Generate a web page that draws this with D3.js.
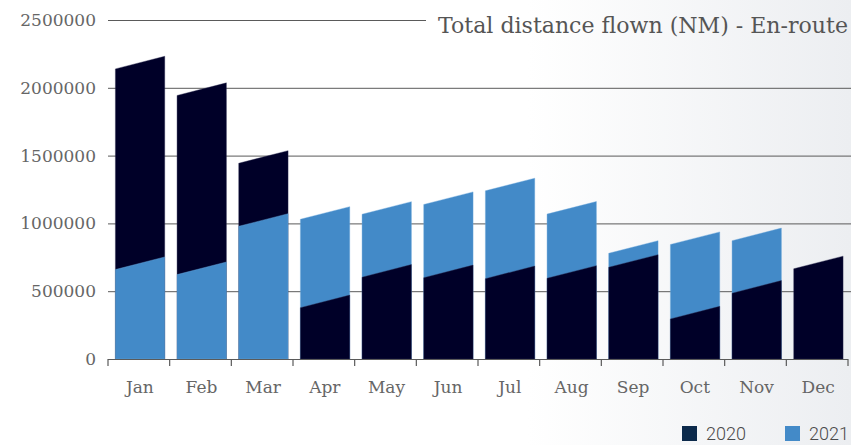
<!DOCTYPE html>
<html>
<head>
<meta charset="utf-8">
<script src="https://cdn.jsdelivr.net/npm/d3@7"></script>
<style>
  html, body { margin: 0; padding: 0; background: #fff; }
  svg { display: block; }
</style>
</head>
<body>
<div id="chart"></div>
<script>
// data
var months = ['Jan', 'Feb', 'Mar', 'Apr', 'May', 'Jun', 'Jul', 'Aug', 'Sep', 'Oct', 'Nov', 'Dec'];
var values2020 = [2186000, 1990000, 1490000, 425000, 650000, 646000, 639000, 642000, 723000, 342000, 532000, 712000];
var values2021 = [706000, 669000, 1025000, 1077000, 1114000, 1186000, 1287000, 1115000, 826000, 891000, 919000, null];
var yTicks = [0, 500000, 1000000, 1500000, 2000000, 2500000];
var seriesNames = ['2020', '2021'];
var title = 'Total distance flown (NM) - En-route';

var W = 851, H = 445;
var slant = 12.6; // bars have a sloped top, left edge lower than right

var colors = {'2020': '#000028', '2021': '#438ac8'};
var legendColors = {'2020': '#0c2a4b', '2021': '#438ac8'};
var textColor = '#666666';

var svg = d3.select('#chart').append('svg').attr('width', W).attr('height', H);

// soft grey fade on the right side
var grad = svg.append('defs').append('linearGradient').attr('id', 'bg').attr('x1', 0).attr('x2', 1).attr('y1', 0).attr('y2', 0);
grad.append('stop').attr('offset', '0.62').attr('stop-color', '#ffffff');
grad.append('stop').attr('offset', '1').attr('stop-color', '#eceef1');
svg.append('rect').attr('width', W).attr('height', H).attr('fill', 'url(#bg)');

var x = d3.scaleBand().domain(months).range([108, 848]).paddingInner(0.2).paddingOuter(0.1).align(0.6);
var y = d3.scaleLinear().domain([0, 2500000]).range([359, 20]);
var step = x.step();

// gridlines (top one stops short of the title)
svg.append('g').selectAll('line').data(yTicks.filter(function(d) { return d > 0; })).enter()
  .append('line')
  .attr('x1', 108).attr('x2', function(d) { return d === 2500000 ? 426 : W; })
  .attr('y1', function(d) { return y(d) + 0.5; }).attr('y2', function(d) { return y(d) + 0.5; })
  .attr('stroke', '#5a5a5a').attr('stroke-width', 1);

// y axis labels
svg.append('g').selectAll('text').data(yTicks).enter()
  .append('text')
  .attr('x', 96).attr('y', function(d) { return y(d) + 6; })
  .attr('text-anchor', 'end')
  .attr('font-family', 'DejaVu Serif')
  .attr('font-size', 17)
  .attr('fill', textColor)
  .text(function(d) { return d; });

// bars: larger one behind, smaller in front
var rows = months.map(function(m, i) {
  var items = [];
  if (values2020[i] != null) items.push({month: m, series: '2020', value: values2020[i]});
  if (values2021[i] != null) items.push({month: m, series: '2021', value: values2021[i]});
  items.sort(function(a, b) { return b.value - a.value; });
  return items;
});
var barData = [].concat.apply([], rows);

function barPath(d) {
  var x0 = x(d.month), x1 = x0 + x.bandwidth();
  var yt = y(d.value), y0 = y(0);
  return 'M' + x0 + ',' + (yt + slant / 2) + 'L' + x1 + ',' + (yt - slant / 2) +
    'L' + x1 + ',' + y0 + 'L' + x0 + ',' + y0 + 'Z';
}
svg.append('g').selectAll('path').data(barData).enter()
  .append('path')
  .attr('d', barPath)
  .attr('fill', function(d) { return colors[d.series]; })
  .attr('stroke', function(d) { return d.series === '2021' ? '#6aa6dc' : '#2a2a50'; })
  .attr('stroke-width', 0.4);

// x axis with ticks at the band boundaries
var axisG = svg.append('g');
axisG.append('line').attr('x1', 108).attr('x2', 848).attr('y1', 359.5).attr('y2', 359.5)
  .attr('stroke', '#5a5a5a').attr('stroke-width', 1.2);
var tickXs = d3.range(months.length + 1).map(function(i) { return 108 + i * step; });
axisG.selectAll('line.tick').data(tickXs).enter()
  .append('line').attr('class', 'tick')
  .attr('x1', function(d) { return d; }).attr('x2', function(d) { return d; })
  .attr('y1', 359).attr('y2', 366)
  .attr('stroke', '#5a5a5a').attr('stroke-width', 1.2);
axisG.selectAll('text').data(months).enter()
  .append('text')
  .attr('x', function(d, i) { return 108 + (i + 0.5) * step + 1; })
  .attr('y', 393)
  .attr('text-anchor', 'middle')
  .attr('font-family', 'DejaVu Serif')
  .attr('font-size', 17)
  .attr('fill', textColor)
  .text(function(d) { return d; });

// title
svg.append('text')
  .attr('x', 438).attr('y', 33)
  .attr('font-family', 'DejaVu Serif')
  .attr('font-size', 22)
  .attr('fill', '#555555')
  .attr('textLength', 410).attr('lengthAdjust', 'spacingAndGlyphs')
  .text(title);

// legend
var legendX = {'2020': 682, '2021': 785};
var leg = svg.append('g').selectAll('g').data(seriesNames).enter().append('g');
leg.append('rect')
  .attr('x', function(d) { return legendX[d]; }).attr('y', 426)
  .attr('width', 15).attr('height', 15)
  .attr('fill', function(d) { return legendColors[d]; });
leg.append('text')
  .attr('x', function(d) { return legendX[d] + 24; }).attr('y', 440)
  .attr('font-family', 'Roboto')
  .attr('font-weight', 300)
  .attr('font-size', 18)
  .attr('fill', '#4a4a4a')
  .text(function(d) { return d; });
</script>
</body>
</html>
